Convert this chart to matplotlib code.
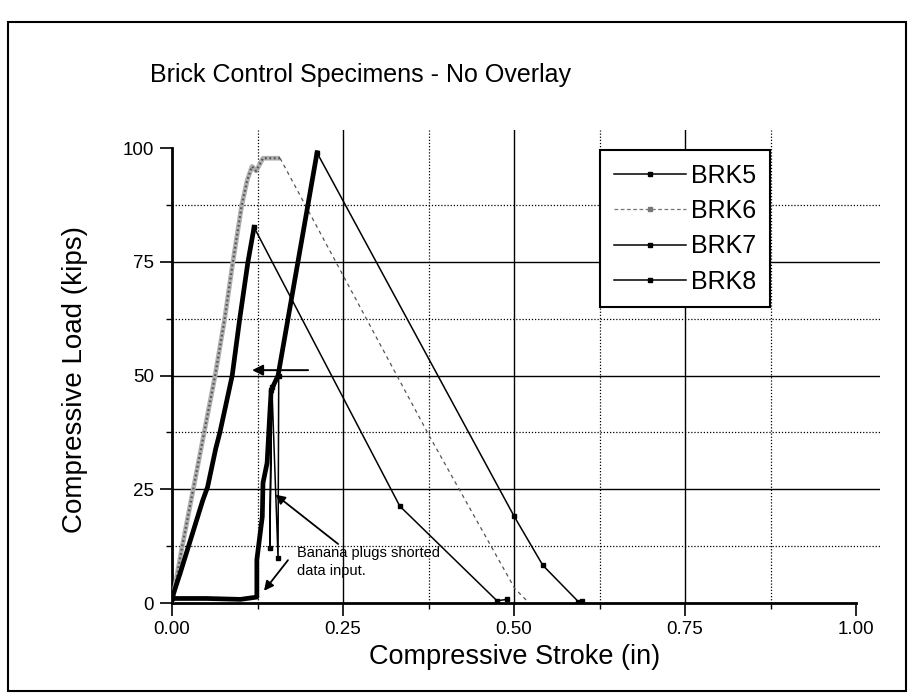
import numpy as np
import matplotlib
matplotlib.use("Agg")
import matplotlib.pyplot as plt
from matplotlib.lines import Line2D
from matplotlib.patches import Rectangle

plt.rcParams["font.family"] = ["Liberation Sans", "DejaVu Sans"]

# ---------- data ----------
# BRK5: short fragments left by the shorted banana plugs
brk5_x = [0.145, 0.143, 0.146, 0.155, 0.156]
brk5_y = [46.8, 12.1, 47.5, 9.9, 50.0]

# BRK6: loading branch, then unloading branch
brk6_rise_x = [0.0, 0.015, 0.031, 0.047, 0.063, 0.077, 0.089, 0.102, 0.110, 0.117, 0.123, 0.133, 0.158]
brk6_rise_y = [0.0, 12.5, 25.0, 37.5, 50.0, 62.5, 75.0, 87.5, 93.0, 96.0, 95.0, 97.8, 97.8]
brk6_fall_x = [0.158, 0.377, 0.501, 0.520]
brk6_fall_y = [97.8, 36.5, 3.2, 0.3]

# BRK7
brk7_rise_x = [0.0, 0.002, 0.012, 0.045, 0.052, 0.064, 0.070, 0.088, 0.099, 0.111, 0.120]
brk7_rise_y = [0.5, 2.0, 6.6, 22.6, 25.5, 34.0, 37.5, 50.0, 62.5, 75.0, 82.6]
brk7_fall_x = [0.120, 0.333, 0.475, 0.490]
brk7_fall_y = [82.6, 21.3, 0.5, 0.8]

# BRK8
brk8_rise_x = [0.0, 0.05, 0.10, 0.124, 0.124, 0.132, 0.133, 0.139, 0.143, 0.145, 0.155, 0.212]
brk8_rise_y = [1.0, 1.0, 0.8, 1.3, 9.5, 19.0, 26.4, 30.8, 41.8, 46.8, 50.0, 99.0]
brk8_fall_x = [0.212, 0.500, 0.542, 0.594, 0.600]
brk8_fall_y = [99.0, 19.1, 8.3, 0.3, 0.5]

series = ["BRK5", "BRK6", "BRK7", "BRK8"]
x_major = [0.0, 0.25, 0.5, 0.75, 1.0]
x_minor = [0.125, 0.375, 0.625, 0.875]
y_major = [0, 25, 50, 75, 100]
y_minor = [12.5, 37.5, 62.5, 87.5]

# ---------- figure ----------
fig = plt.figure(figsize=(9.13, 6.96), dpi=100)
ax = fig.add_axes([0.1884, 0.1336, 0.7755, 0.6796])
ax.set_xlim(0, 1.035)
ax.set_ylim(0, 104)

# grid drawn by hand: no line at 100 or at 1.00 in the original
for v in x_major[1:-1]:
    ax.axvline(v, color="black", lw=1.0, zorder=1)
for v in x_minor:
    ax.axvline(v, color="black", lw=0.9, ls=(0, (1, 1.5)), zorder=1)
for v in y_major[1:-1]:
    ax.axhline(v, color="black", lw=1.0, zorder=1)
for v in y_minor:
    ax.axhline(v, color="black", lw=0.9, ls=(0, (1, 1.5)), zorder=1)

# curves
ax.plot(brk6_rise_x, brk6_rise_y, color="#b0b0b0", lw=3.4, solid_capstyle="butt", zorder=3)
ax.plot(brk6_rise_x, brk6_rise_y, color="#555555", lw=1.6, ls=(0, (0.8, 1.2)), zorder=3)
ax.plot(brk6_fall_x, brk6_fall_y, color="#555555", lw=0.9, ls=(0, (3, 3)), zorder=3)

ax.plot(brk7_rise_x, brk7_rise_y, color="black", lw=3.4, zorder=4)
ax.plot(brk7_fall_x, brk7_fall_y, color="black", lw=1.1, marker="s", ms=2.5, zorder=4)

ax.plot(brk8_rise_x, brk8_rise_y, color="black", lw=3.4, zorder=4)
ax.plot(brk8_fall_x, brk8_fall_y, color="black", lw=1.1, marker="s", ms=2.5, zorder=4)

ax.plot(brk5_x, brk5_y, color="black", lw=1.1, marker="s", ms=3, zorder=5)

# spines / ticks
for s in ["top", "right"]:
    ax.spines[s].set_visible(False)
ax.spines["left"].set_linewidth(2)
ax.spines["bottom"].set_linewidth(2)
ax.spines["left"].set_bounds(0, 100)
ax.spines["bottom"].set_bounds(0, 1.0)

ax.set_xticks(x_major)
ax.set_xticks(x_minor, minor=True)
ax.set_yticks(y_major)
ax.set_yticks(y_minor, minor=True)
ax.set_xticklabels([f"{v:.2f}" for v in x_major])
ax.set_yticklabels([str(v) for v in y_major])
ax.tick_params(axis="both", which="major", direction="out", length=9, width=1.2,
               labelsize=13.5, pad=4)
ax.tick_params(axis="both", which="minor", direction="out", length=4.5, width=1.0)

ax.set_xlabel("Compressive Stroke (in)", fontsize=19.5)
ax.xaxis.set_label_coords((515 - 172) / 708, -41 / 473)
ax.set_ylabel("Compressive Load (kips)", fontsize=20)
ax.yaxis.set_label_coords(-84 / 708, (603 - 379) / 473)

# legend
handles = [
    Line2D([], [], color="black", lw=1.1, marker="s", ms=3),
    Line2D([], [], color="#777777", lw=0.9, ls=(0, (3, 2)), marker="s", ms=2.5),
    Line2D([], [], color="black", lw=1.1, marker="s", ms=3),
    Line2D([], [], color="black", lw=1.1, marker="s", ms=3),
]
leg = ax.legend(handles, series, loc="upper left", bbox_to_anchor=(0.6045, 0.9577),
                borderaxespad=0, fontsize=18, numpoints=1, handlelength=2.9,
                handletextpad=0.2, labelspacing=0.45, borderpad=0.55,
                fancybox=False, framealpha=1, edgecolor="black")
leg.get_frame().set_linewidth(1.5)
leg.set_zorder(6)

# annotations
ax.annotate("", xy=(0.113, 51.2), xytext=(0.203, 51.2),
            arrowprops=dict(arrowstyle="-|>", color="black", lw=1.4, mutation_scale=16),
            zorder=7)
ax.text(0.183, 9.0, "Banana plugs shorted\ndata input.", fontsize=10.5,
        ha="left", va="center", linespacing=1.35, zorder=7)
ax.annotate("", xy=(0.148, 24.2), xytext=(0.246, 12.6),
            arrowprops=dict(arrowstyle="-|>", color="black", lw=1.3, mutation_scale=14),
            zorder=7)
ax.annotate("", xy=(0.132, 2.2), xytext=(0.172, 9.9),
            arrowprops=dict(arrowstyle="-|>", color="black", lw=1.3, mutation_scale=14),
            zorder=7)

# title and outer frame
fig.text(150 / 913, 1 - 75 / 696, "Brick Control Specimens - No Overlay",
         fontsize=18, ha="left", va="center")
fig.add_artist(Rectangle((8 / 913, 5 / 696), 898 / 913, 669 / 696,
                         transform=fig.transFigure, fill=False, lw=1.5,
                         edgecolor="black"))

fig.savefig("out.png", dpi=100)
